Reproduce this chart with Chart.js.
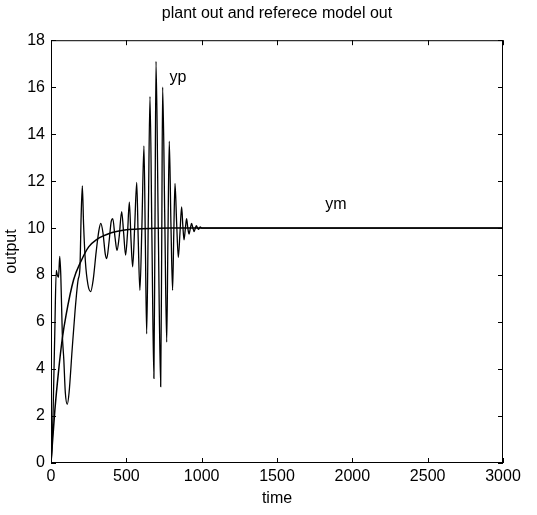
<!DOCTYPE html>
<html>
<head>
<meta charset="utf-8">
<script src="https://cdn.jsdelivr.net/npm/chart.js@4"></script>
<style>
  html, body { margin: 0; padding: 0; background: #fff; }
  #chart { display: block; }
</style>
</head>
<body>
<canvas id="chart" width="537" height="515"></canvas>
<script>
// plant output yp
const ypTime = [0, 8, 15, 25, 35, 42, 50, 58, 65, 75, 85, 95, 108, 120, 140, 160, 180, 192, 200, 208, 216, 228, 245, 263, 280, 300, 318, 330, 345, 360, 370, 385, 400, 410, 425, 438, 452, 469, 482, 495, 508, 520, 531, 542, 555, 569, 579, 590, 603, 617, 626, 635, 646, 657, 670, 683, 690, 697, 712, 728, 735, 741, 755, 768, 776, 785, 796, 807, 815, 823, 834, 845, 856, 867, 875, 883, 892, 900, 908, 916, 925, 933, 942, 950, 958, 965, 973, 980, 990, 1000, 1010, 3000];
const ypValue = [0, 0.8, 2.5, 5.5, 8.2, 8.0, 7.9, 8.8, 8.0, 5.5, 4.4, 3.0, 2.5, 3.0, 4.8, 6.5, 7.8, 8.3, 10.5, 11.8, 10.2, 8.6, 7.6, 7.3, 7.8, 9.0, 9.9, 10.2, 9.8, 8.9, 8.7, 9.4, 10.3, 10.4, 9.6, 9.05, 9.6, 10.7, 9.8, 8.85, 9.8, 11.1, 9.5, 8.35, 10.0, 11.95, 9.5, 7.35, 10.0, 13.5, 9.5, 5.5, 10.5, 15.6, 9.5, 3.6, 10.0, 17.1, 10.0, 3.25, 9.5, 16.0, 10.5, 5.15, 9.5, 13.7, 10.2, 7.35, 9.8, 11.9, 10.2, 8.75, 9.8, 10.9, 10.1, 9.5, 10.0, 10.4, 10.0, 9.75, 10.0, 10.2, 10.0, 9.85, 10.0, 10.1, 10.0, 9.95, 10.05, 10.0, 10.0, 10.0];

// reference model output ym
const ymTime = [0, 25, 50, 75, 100, 150, 200, 250, 300, 400, 500, 600, 800, 1000, 3000];
const ymValue = [0, 2.2, 3.9, 5.3, 6.3, 7.8, 8.6, 9.2, 9.5, 9.8, 9.93, 9.97, 10, 10, 10];

const xTicks = [0, 500, 1000, 1500, 2000, 2500, 3000];
const yTicks = [0, 2, 4, 6, 8, 10, 12, 14, 16, 18];

const curveLabels = [
    { text: 'yp', x: 843, y: 16.4 },
    { text: 'ym', x: 1891, y: 11.0 }
];

const FONT = '"Liberation Sans", Arial, sans-serif';

function toPoints(xs, ys) {
    return xs.map((x, i) => ({ x: x, y: ys[i] }));
}

// matlab style box with inward ticks + curve labels
const boxPlugin = {
    id: 'box',
    afterDatasetsDraw(chart) {
        const ctx = chart.ctx;
        const a = chart.chartArea;
        const xs = chart.scales.x;
        const ys = chart.scales.y;
        const tl = 5;

        ctx.save();
        ctx.strokeStyle = '#000';
        ctx.lineWidth = 1;
        ctx.strokeRect(a.left + 0.5, a.top + 0.5, a.right - a.left - 1, a.bottom - a.top - 1);

        ctx.beginPath();
        xTicks.forEach(v => {
            const px = Math.round(xs.getPixelForValue(v)) + 0.5;
            ctx.moveTo(px, a.bottom);
            ctx.lineTo(px, a.bottom - tl);
            ctx.moveTo(px, a.top);
            ctx.lineTo(px, a.top + tl);
        });
        yTicks.forEach(v => {
            const py = Math.round(ys.getPixelForValue(v)) + 0.5;
            ctx.moveTo(a.left, py);
            ctx.lineTo(a.left + tl, py);
            ctx.moveTo(a.right, py);
            ctx.lineTo(a.right - tl, py);
        });
        ctx.stroke();

        ctx.fillStyle = '#000';
        ctx.font = '16px ' + FONT;
        ctx.textAlign = 'center';
        ctx.textBaseline = 'middle';
        curveLabels.forEach(l => {
            ctx.fillText(l.text, xs.getPixelForValue(l.x), ys.getPixelForValue(l.y));
        });
        ctx.restore();
    }
};

const ctx = document.getElementById('chart').getContext('2d');
new Chart(ctx, {
    type: 'line',
    data: {
        datasets: [
            {
                label: 'yp',
                data: toPoints(ypTime, ypValue),
                borderColor: '#000',
                borderWidth: 1.3,
                pointRadius: 0,
                cubicInterpolationMode: 'monotone'
            },
            {
                label: 'ym',
                data: toPoints(ymTime, ymValue),
                borderColor: '#000',
                borderWidth: 1.5,
                pointRadius: 0,
                cubicInterpolationMode: 'monotone'
            }
        ]
    },
    options: {
        responsive: false,
        animation: false,
        layout: { padding: { left: 0, right: 34, top: 0, bottom: 0 } },
        plugins: {
            legend: { display: false },
            tooltip: { enabled: false },
            title: {
                display: true,
                fullSize: false,
                text: 'plant out and referece model out',
                color: '#000',
                font: { family: FONT, size: 16, weight: 'normal' },
                padding: { top: 4, bottom: 17 }
            }
        },
        scales: {
            x: {
                type: 'linear',
                min: 0,
                max: 3000,
                afterBuildTicks: scale => { scale.ticks = xTicks.map(v => ({ value: v })); },
                afterFit: scale => { scale.height = 52; },
                grid: { display: false, drawTicks: false },
                border: { display: false },
                ticks: {
                    color: '#000',
                    font: { family: FONT, size: 16 },
                    padding: 4,
                    maxRotation: 0,
                    callback: v => String(v)
                },
                title: {
                    display: true,
                    text: 'time',
                    color: '#000',
                    font: { family: FONT, size: 16 },
                    padding: { top: 0, bottom: 7 }
                }
            },
            y: {
                type: 'linear',
                min: 0,
                max: 18,
                afterBuildTicks: scale => { scale.ticks = yTicks.map(v => ({ value: v })); },
                afterFit: scale => { scale.width = 51; },
                grid: { display: false, drawTicks: false },
                border: { display: false },
                ticks: {
                    color: '#000',
                    font: { family: FONT, size: 16 },
                    padding: 6,
                    callback: v => String(v)
                },
                title: {
                    display: true,
                    text: 'output',
                    color: '#000',
                    font: { family: FONT, size: 16 },
                    padding: { top: 2, bottom: 0 }
                }
            }
        }
    },
    plugins: [boxPlugin]
});
</script>
</body>
</html>
